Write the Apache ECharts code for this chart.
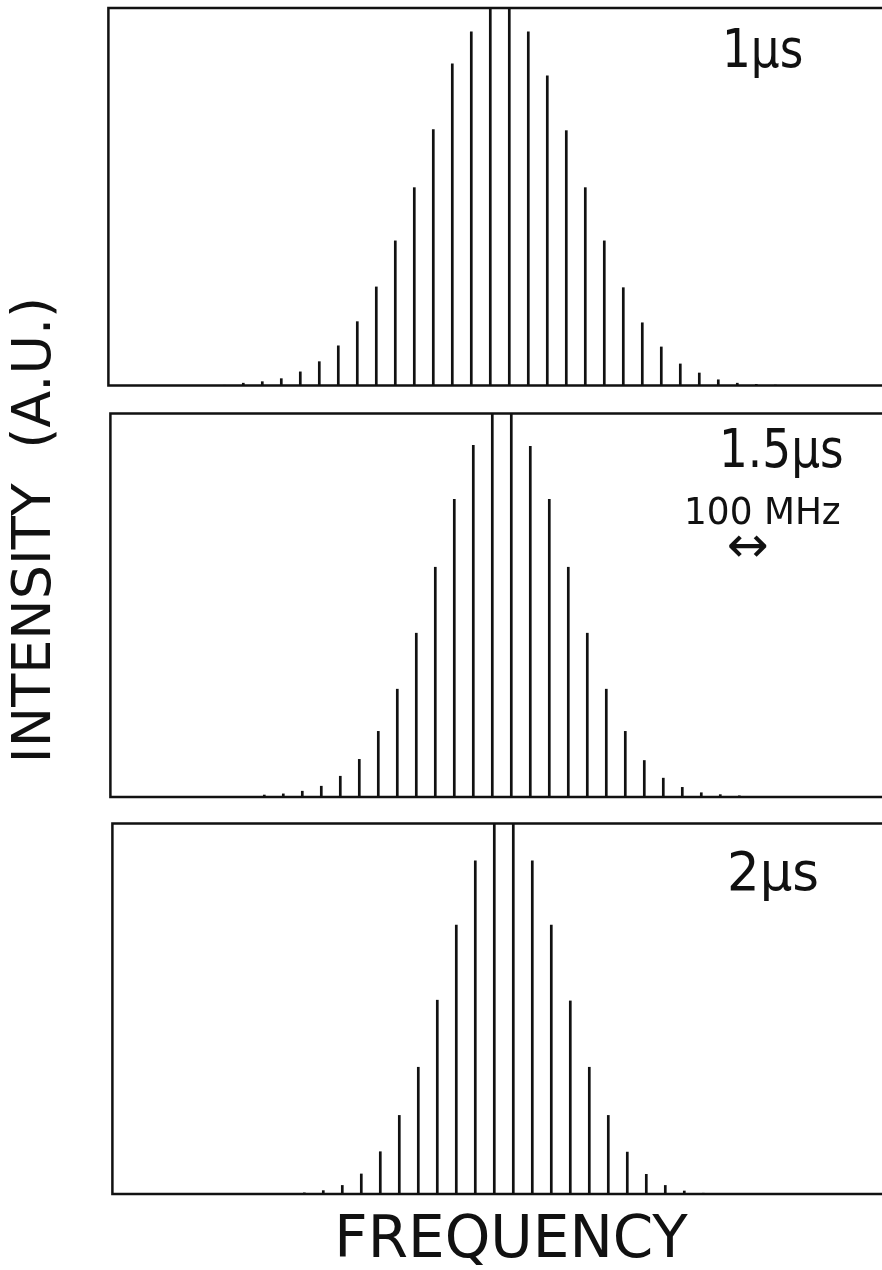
<!DOCTYPE html>
<html>
<head>
<meta charset="utf-8">
<script src="https://cdn.jsdelivr.net/npm/echarts@6/dist/echarts.min.js"></script>
<style>
  html, body { margin: 0; padding: 0; background: #fff; }
  #chart { width: 882px; height: 1270px; }
</style>
</head>
<body>
<div id="chart"></div>
<script>
// Mode number (centre pair at 0 and 1) and line intensity (A.U., frame top = 100)
const modes1 = [-14, -13, -12, -11, -10, -9, -8, -7, -6, -5, -4, -3, -2, -1, 0, 1, 2, 3, 4, 5, 6, 7, 8, 9, 10, 11, 12, 13, 14, 15];
const spectrum1 = [0.15, 0.7, 1.1, 1.9, 3.7, 6.4, 10.6, 17, 26.2, 38.4, 52.5, 67.9, 85.3, 93.8, 110, 110, 93.8, 82.1, 67.6, 52.5, 38.4, 26, 16.7, 10.3, 5.8, 3.4, 1.6, 0.7, 0.4, 0.2];

const modes2 = [-12, -11, -10, -9, -8, -7, -6, -5, -4, -3, -2, -1, 0, 1, 2, 3, 4, 5, 6, 7, 8, 9, 10, 11, 12, 13];
const spectrum2 = [0.6, 0.9, 1.6, 2.9, 5.5, 9.9, 17.2, 28.2, 42.8, 60, 77.7, 91.8, 110, 110, 91.5, 77.7, 60, 42.8, 28.2, 17.2, 9.6, 5, 2.6, 1.2, 0.7, 0.4];

const modes3 = [-10, -9, -8, -7, -6, -5, -4, -3, -2, -1, 0, 1, 2, 3, 4, 5, 6, 7, 8, 9, 10, 11];
const spectrum3 = [0.4, 1, 2.4, 5.5, 11.5, 21.3, 34.3, 52.4, 72.7, 90, 110, 110, 90, 72.7, 52.2, 34.3, 21.3, 11.4, 5.4, 2.4, 0.9, 0.3];

const panelLabels = ['1\u03bcs', '1.5\u03bcs', '2\u03bcs'];
const scaleLabel = '100 MHz';
const yTitle = 'INTENSITY  (A.U.)';
const xTitle = 'FREQUENCY';

const FONT = 'DejaVu Sans';
const INK = '#111';

// panel frames: [left, top, height]; 19 px per mode, frame runs past the right edge
const frames = [[108.4, 8, 377.5], [110.4, 413.5, 383.5], [112.4, 823.5, 370.5]];
const X_MIN = -20.1, X_MAX = 22, PX_PER_MODE = 19;

const series = [[modes1, spectrum1], [modes2, spectrum2], [modes3, spectrum3]];

function label(text, left, top, size, sx) {
  return { type: 'text', left: left, top: top, scaleX: sx,
    style: { text: text, font: size + 'px "' + FONT + '"', fill: INK } };
}

const option = {
  animation: false,
  backgroundColor: '#fff',
  grid: frames.map(f => ({
    left: f[0], top: f[1], height: f[2],
    width: (X_MAX - X_MIN) * PX_PER_MODE,
    outerBoundsMode: 'none', containLabel: false,
    show: true, borderColor: INK, borderWidth: 2.5, backgroundColor: 'transparent'
  })),
  xAxis: frames.map((f, i) => ({
    type: 'value', gridIndex: i, min: X_MIN, max: X_MAX,
    axisLine: { show: false }, axisTick: { show: false }, axisLabel: { show: false }, splitLine: { show: false }
  })),
  yAxis: frames.map((f, i) => ({
    type: 'value', gridIndex: i, min: 0, max: 100,
    axisLine: { show: false }, axisTick: { show: false }, axisLabel: { show: false }, splitLine: { show: false }
  })),
  series: series.map((s, i) => ({
    type: 'bar', xAxisIndex: i, yAxisIndex: i,
    barWidth: 2.7, clip: true,
    itemStyle: { color: INK },
    data: s[0].map((m, k) => [m, s[1][k]])
  })),
  graphic: [
    label(panelLabels[0], 722, 26, 54, 0.84),
    label(panelLabels[1], 719, 426, 54, 0.84),
    label(panelLabels[2], 727, 849, 54, 0.95),
    label(scaleLabel, 684, 496, 37, 0.97),
    label('\u2194', 727, 524, 50, 1),
    { type: 'text', x: 36, y: 530, rotation: Math.PI / 2,
      style: { text: yTitle, font: '54px "' + FONT + '"', fill: INK, align: 'center', verticalAlign: 'middle' } },
    { type: 'text', x: 511, y: 1242,
      style: { text: xTitle, font: '58px "' + FONT + '"', fill: INK, align: 'center', verticalAlign: 'middle' } }
  ]
};

const chart = echarts.init(document.getElementById('chart'), null, { renderer: 'canvas' });
chart.setOption(option);
</script>
</body>
</html>
